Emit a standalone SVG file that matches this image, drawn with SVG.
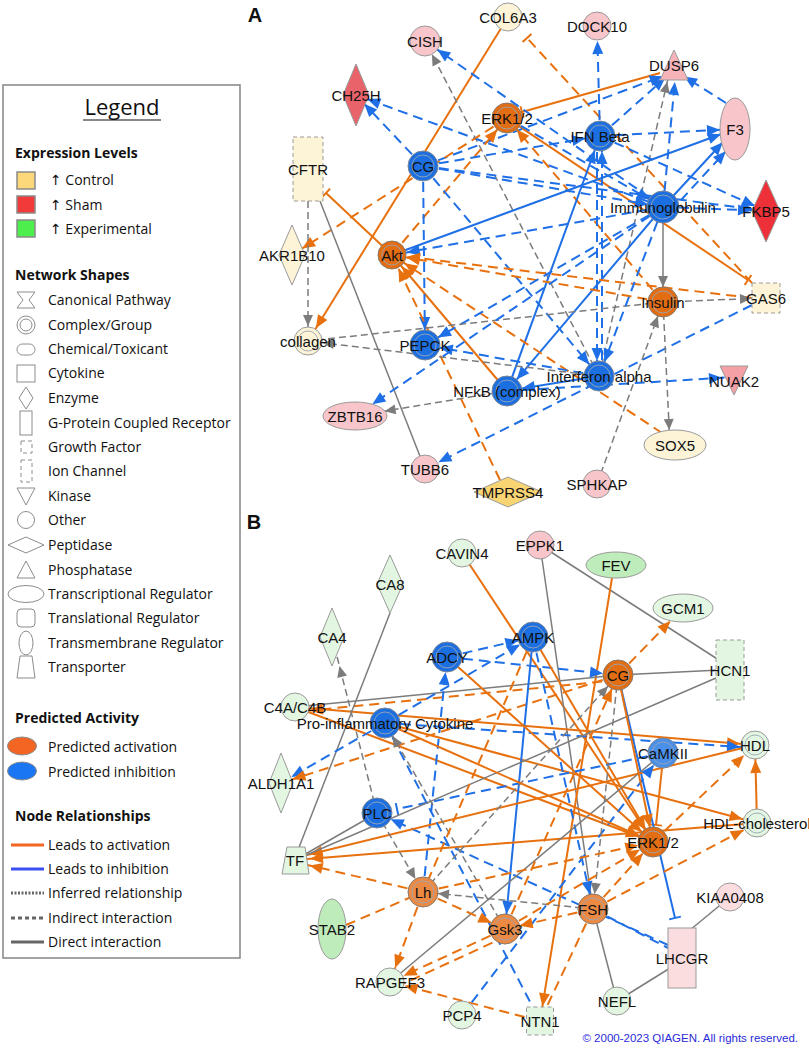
<svg xmlns="http://www.w3.org/2000/svg" width="809" height="1048" viewBox="0 0 809 1048">
<style>
.eo{stroke:#e8710f;stroke-width:2;fill:none}
.eb{stroke:#1f6fe6;stroke-width:2;fill:none}
.eg{stroke:#7c7c7c;stroke-width:1.5;fill:none}
.d{stroke-dasharray:10 6}
.eg.d{stroke-dasharray:7 4}
.nb{fill:#1c6fe0;stroke:#7a8597;stroke-width:1}
.ncm{fill:#4b90e8;stroke:#7a8597;stroke-width:1}
.no{fill:#e36d12;stroke:#8a7a6a;stroke-width:1}
.nlo{fill:#ec8a44;stroke:#8a7a6a;stroke-width:1}
.npk{fill:#f8c6ca;stroke:#9a9a9a;stroke-width:1}
.nlp{fill:#fbdde0;stroke:#9a9a9a;stroke-width:1}
.ncr{fill:#fdf4d8;stroke:#9a9a9a;stroke-width:1}
.nlg{fill:#e3f6e1;stroke:#9a9a9a;stroke-width:1}
.ngr{fill:#bfecbb;stroke:#9a9a9a;stroke-width:1}
.ring{fill:none;stroke:#9aa6b6;stroke-width:0.9}
.dash{stroke-dasharray:4 3}
.lbl{font-family:"Liberation Sans",Arial,sans-serif;font-size:15px;fill:#111;text-anchor:middle;dominant-baseline:central}
.ttl{font-family:"Liberation Sans",Arial,sans-serif;font-size:20px;font-weight:bold;fill:#111;text-anchor:middle}
.li{font-family:"Open Sans","Liberation Sans",sans-serif;font-size:14px;fill:#111}
.lh{font-family:"Open Sans","Liberation Sans",sans-serif;font-size:14px;font-weight:bold;fill:#111}
.ar{font-family:"DejaVu Sans",sans-serif;font-size:14px}
.ls{fill:#fff;stroke:#8c8c8c;stroke-width:1}
</style>
<defs>
<marker id="ao12" markerUnits="userSpaceOnUse" orient="auto" refX="12" refY="0" markerWidth="1" markerHeight="1" overflow="visible"><path d="M0,0 L-13,-5.5 L-13,5.5 z" fill="#e8710f"/></marker>
<marker id="ao15" markerUnits="userSpaceOnUse" orient="auto" refX="15" refY="0" markerWidth="1" markerHeight="1" overflow="visible"><path d="M0,0 L-13,-5.5 L-13,5.5 z" fill="#e8710f"/></marker>
<marker id="ao18" markerUnits="userSpaceOnUse" orient="auto" refX="18" refY="0" markerWidth="1" markerHeight="1" overflow="visible"><path d="M0,0 L-13,-5.5 L-13,5.5 z" fill="#e8710f"/></marker>
<marker id="ab12" markerUnits="userSpaceOnUse" orient="auto" refX="12" refY="0" markerWidth="1" markerHeight="1" overflow="visible"><path d="M0,0 L-13,-5.5 L-13,5.5 z" fill="#1f6fe6"/></marker>
<marker id="ab15" markerUnits="userSpaceOnUse" orient="auto" refX="15" refY="0" markerWidth="1" markerHeight="1" overflow="visible"><path d="M0,0 L-13,-5.5 L-13,5.5 z" fill="#1f6fe6"/></marker>
<marker id="ab18" markerUnits="userSpaceOnUse" orient="auto" refX="18" refY="0" markerWidth="1" markerHeight="1" overflow="visible"><path d="M0,0 L-13,-5.5 L-13,5.5 z" fill="#1f6fe6"/></marker>
<marker id="ab22" markerUnits="userSpaceOnUse" orient="auto" refX="21" refY="0" markerWidth="1" markerHeight="1" overflow="visible"><path d="M0,0 L-13,-5.5 L-13,5.5 z" fill="#1f6fe6"/></marker>
<marker id="ag12" markerUnits="userSpaceOnUse" orient="auto" refX="12" refY="0" markerWidth="1" markerHeight="1" overflow="visible"><path d="M0,0 L-11,-5 L-11,5 z" fill="#7c7c7c"/></marker>
<marker id="ag15" markerUnits="userSpaceOnUse" orient="auto" refX="15" refY="0" markerWidth="1" markerHeight="1" overflow="visible"><path d="M0,0 L-11,-5 L-11,5 z" fill="#7c7c7c"/></marker>
<marker id="ag30" markerUnits="userSpaceOnUse" orient="auto" refX="30" refY="0" markerWidth="1" markerHeight="1" overflow="visible"><path d="M0,0 L-11,-5 L-11,5 z" fill="#7c7c7c"/></marker>
<marker id="to" markerUnits="userSpaceOnUse" orient="auto" refX="0" refY="0" markerWidth="1" markerHeight="1" overflow="visible"><path d="M0,-6 L0,6" stroke="#e8710f" stroke-width="2"/></marker>
<marker id="tb" markerUnits="userSpaceOnUse" orient="auto" refX="0" refY="0" markerWidth="1" markerHeight="1" overflow="visible"><path d="M0,-6 L0,6" stroke="#1f6fe6" stroke-width="2"/></marker>
</defs>
<rect width="809" height="1048" fill="#fff"/>

<g id="legend">
<rect x="3" y="85" width="237" height="873" fill="#fff" stroke="#8c8c8c" stroke-width="1.6"/>
<text x="122" y="115" class="li" text-anchor="middle" style="font-size:22px">Legend</text>
<line x1="83" y1="120" x2="161" y2="120" stroke="#111" stroke-width="1.2"/>
<text x="15" y="158" class="lh">Expression Levels</text>
<rect x="17" y="172" width="18" height="17" fill="#fdd87a" stroke="#8a8a8a" stroke-width="1.5"/>
<text x="50" y="185" class="li"><tspan class="ar">↑</tspan> Control</text>
<rect x="17" y="196" width="18" height="17" fill="#f23a3a" stroke="#8a8a8a" stroke-width="1.5"/>
<text x="50" y="210" class="li"><tspan class="ar">↑</tspan> Sham</text>
<rect x="17" y="220" width="18" height="17" fill="#4cef4c" stroke="#8a8a8a" stroke-width="1.5"/>
<text x="50" y="234" class="li"><tspan class="ar">↑</tspan> Experimental</text>
<text x="15" y="280" class="lh">Network Shapes</text>
<polygon class="ls" points="17,292 35,292 29,300 35,308 17,308 23,300"/>
<text x="48" y="305" class="li">Canonical Pathway</text>
<circle class="ls" cx="26" cy="325" r="9"/><circle class="ls" cx="26" cy="325" r="6"/>
<text x="48" y="330" class="li">Complex/Group</text>
<rect class="ls" x="17" y="344" width="18" height="11" rx="5.5"/>
<text x="48" y="354" class="li">Chemical/Toxicant</text>
<rect class="ls" x="17" y="365" width="18" height="17"/>
<text x="48" y="378" class="li">Cytokine</text>
<polygon class="ls" points="26,387 33,398 26,409 19,398"/>
<text x="48" y="403" class="li">Enzyme</text>
<rect class="ls" x="20" y="411" width="12" height="24"/>
<text x="48" y="428" class="li">G-Protein Coupled Receptor</text>
<rect class="ls dash" x="21" y="441" width="11" height="12"/>
<text x="48" y="452" class="li">Growth Factor</text>
<rect class="ls dash" x="21" y="460" width="11" height="22"/>
<text x="48" y="476" class="li">Ion Channel</text>
<polygon class="ls" points="17,488 35,488 26,505"/>
<text x="48" y="501" class="li">Kinase</text>
<circle class="ls" cx="26" cy="520" r="8.5"/>
<text x="48" y="525" class="li">Other</text>
<polygon class="ls" points="8,545 26,537 44,545 26,553"/>
<text x="48" y="550" class="li">Peptidase</text>
<polygon class="ls" points="26,561 35,578 17,578"/>
<text x="48" y="575" class="li">Phosphatase</text>
<ellipse class="ls" cx="26" cy="594" rx="18" ry="8.5"/>
<text x="48" y="599" class="li">Transcriptional Regulator</text>
<rect class="ls" x="17" y="609" width="18" height="18" rx="4"/>
<text x="48" y="623" class="li">Translational Regulator</text>
<ellipse class="ls" cx="26" cy="643" rx="7" ry="12"/>
<text x="48" y="648" class="li">Transmembrane Regulator</text>
<polygon class="ls" points="20,656 32,656 35,678 17,678"/>
<text x="48" y="672" class="li">Transporter</text>
<text x="15" y="723" class="lh">Predicted Activity</text>
<ellipse cx="22" cy="746" rx="14.5" ry="9" fill="#f26522" stroke="#8a8a8a"/>
<text x="48" y="752" class="li">Predicted activation</text>
<ellipse cx="22" cy="771" rx="14.5" ry="9" fill="#1a76f2" stroke="#8a8a8a"/>
<text x="48" y="777" class="li">Predicted inhibition</text>
<text x="15" y="821" class="lh">Node Relationships</text>
<line x1="11" y1="845" x2="44" y2="845" stroke="#f26522" stroke-width="3"/>
<text x="48" y="850" class="li">Leads to activation</text>
<line x1="11" y1="869" x2="44" y2="869" stroke="#3c4ff0" stroke-width="3"/>
<text x="48" y="874" class="li">Leads to inhibition</text>
<line x1="11" y1="893" x2="44" y2="893" stroke="#666" stroke-width="3" stroke-dasharray="2 1.5"/>
<text x="48" y="898" class="li">Inferred relationship</text>
<line x1="11" y1="918" x2="44" y2="918" stroke="#666" stroke-width="3" stroke-dasharray="4 3"/>
<text x="48" y="923" class="li">Indirect interaction</text>
<line x1="11" y1="942" x2="44" y2="942" stroke="#666" stroke-width="3"/>
<text x="48" y="947" class="li">Direct interaction</text>
</g>

<text x="255" y="22" class="ttl">A</text>
<text x="254" y="529" class="ttl">B</text>

<g id="edges-A">
<line x1="508" y1="17" x2="308" y2="341" class="eo" marker-end="url(#ao15)"/>
<line x1="752" y1="283" x2="527" y2="38" class="eo d" marker-end="url(#to)"/>
<line x1="507" y1="118" x2="748" y2="280" class="eo" marker-end="url(#to)"/>
<line x1="660" y1="73" x2="522" y2="112" class="eo" marker-end="url(#to)"/>
<line x1="600" y1="136" x2="597" y2="26" class="eb d" marker-end="url(#ab15)"/>
<line x1="600" y1="136" x2="674" y2="70" class="eb d" marker-end="url(#ab12)"/>
<line x1="726" y1="103" x2="674" y2="70" class="eb d" marker-end="url(#ab12)"/>
<line x1="663" y1="207" x2="676" y2="70" class="eb d" marker-end="url(#ab12)"/>
<line x1="599" y1="376" x2="670" y2="70" class="eg d" marker-end="url(#ag12)"/>
<line x1="423" y1="166" x2="674" y2="72" class="eb d" marker-end="url(#ab12)"/>
<line x1="663" y1="207" x2="425" y2="41" class="eb d" marker-end="url(#ab15)"/>
<line x1="599" y1="376" x2="425" y2="41" class="eg d" marker-end="url(#ag15)"/>
<line x1="423" y1="166" x2="356" y2="95" class="eb d" marker-end="url(#ab12)"/>
<line x1="663" y1="207" x2="356" y2="95" class="eb d" marker-end="url(#ab12)"/>
<line x1="507" y1="118" x2="292" y2="255" class="eo d" marker-end="url(#ao12)"/>
<line x1="392" y1="255" x2="507" y2="118" class="eo d" marker-end="url(#ao15)"/>
<line x1="663" y1="302" x2="507" y2="118" class="eo d" marker-end="url(#ao15)"/>
<line x1="308" y1="201" x2="308" y2="341" class="eg d" marker-end="url(#ag15)"/>
<line x1="320" y1="201" x2="425" y2="469" class="eg"/>
<line x1="392" y1="255" x2="326" y2="193" class="eo" marker-end="url(#to)"/>
<line x1="507" y1="391" x2="392" y2="255" class="eo" marker-end="url(#ao15)"/>
<line x1="392" y1="255" x2="735" y2="129" class="eb" marker-end="url(#ab15)"/>
<line x1="600" y1="136" x2="735" y2="129" class="eb d" marker-end="url(#ab15)"/>
<line x1="663" y1="207" x2="735" y2="129" class="eb" marker-end="url(#ab18)"/>
<line x1="670" y1="212" x2="738" y2="138" class="eb d" marker-end="url(#ab18)"/>
<line x1="423" y1="166" x2="766" y2="211" class="eb d" marker-end="url(#ab12)"/>
<line x1="600" y1="136" x2="766" y2="211" class="eb d" marker-end="url(#ab12)"/>
<line x1="663" y1="207" x2="766" y2="211" class="eb d" marker-end="url(#ab15)"/>
<line x1="423" y1="166" x2="600" y2="136" class="eb d" marker-end="url(#ab15)"/>
<line x1="423" y1="166" x2="663" y2="207" class="eb d" marker-end="url(#ab15)"/>
<line x1="423" y1="166" x2="425" y2="345" class="eb d" marker-end="url(#ab15)"/>
<line x1="423" y1="166" x2="599" y2="376" class="eb d" marker-end="url(#ab15)"/>
<line x1="597" y1="136" x2="597" y2="376" class="eb d" marker-end="url(#ab15)"/>
<line x1="602" y1="376" x2="602" y2="136" class="eb d" marker-end="url(#ab15)"/>
<line x1="507" y1="391" x2="600" y2="136" class="eb" marker-end="url(#ab15)"/>
<line x1="663" y1="207" x2="507" y2="391" class="eb" marker-end="url(#ab15)"/>
<line x1="663" y1="207" x2="392" y2="255" class="eb d" marker-end="url(#ab15)"/>
<line x1="663" y1="302" x2="392" y2="255" class="eo d" marker-end="url(#ao15)"/>
<line x1="752" y1="298" x2="392" y2="255" class="eo d" marker-end="url(#ao15)"/>
<line x1="662" y1="433" x2="392" y2="255" class="eo d" marker-end="url(#ao15)"/>
<line x1="500" y1="480" x2="392" y2="255" class="eo d" marker-end="url(#ao15)"/>
<line x1="663" y1="207" x2="425" y2="345" class="eb d" marker-end="url(#ab15)"/>
<line x1="599" y1="376" x2="425" y2="345" class="eb d" marker-end="url(#ab15)"/>
<line x1="663" y1="302" x2="308" y2="341" class="eg d"/>
<line x1="599" y1="376" x2="308" y2="341" class="eg d" marker-end="url(#ag15)"/>
<line x1="507" y1="391" x2="355" y2="416" class="eg d" marker-end="url(#ag30)"/>
<line x1="663" y1="207" x2="355" y2="416" class="eb d" marker-end="url(#ab22)"/>
<line x1="752" y1="305" x2="425" y2="469" class="eb d" marker-end="url(#ab15)"/>
<line x1="663" y1="302" x2="670" y2="445" class="eg d" marker-end="url(#ag15)"/>
<line x1="597" y1="484" x2="663" y2="302" class="eg d" marker-end="url(#ag15)"/>
<line x1="663" y1="207" x2="663" y2="302" class="eg" marker-end="url(#ag15)"/>
<line x1="663" y1="207" x2="599" y2="376" class="eb d" marker-end="url(#ab15)"/>
<line x1="599" y1="376" x2="507" y2="391" class="eb" marker-end="url(#ab15)"/>
<line x1="507" y1="391" x2="734" y2="377" class="eb d" marker-end="url(#ab12)"/>
<line x1="663" y1="302" x2="766" y2="298" class="eg d" marker-end="url(#ag15)"/>
<line x1="507" y1="118" x2="663" y2="207" class="eb d" marker-end="url(#ab15)"/>
</g>

<g id="edges-B">
<line x1="462" y1="553" x2="653" y2="842" class="eo" marker-end="url(#ao15)"/>
<line x1="540" y1="545" x2="722" y2="662" class="eg"/>
<line x1="540" y1="545" x2="593" y2="909" class="eg"/>
<line x1="612" y1="578" x2="540" y2="1021" class="eo" marker-end="url(#ao15)"/>
<line x1="618" y1="675" x2="683" y2="608" class="eo d" marker-end="url(#ao18)"/>
<line x1="618" y1="675" x2="720" y2="670" class="eg"/>
<line x1="295" y1="707" x2="618" y2="675" class="eg"/>
<line x1="618" y1="680" x2="295" y2="712" class="eo d" marker-end="url(#ao15)"/>
<line x1="295" y1="707" x2="755" y2="745" class="eo" marker-end="url(#ao15)"/>
<line x1="385" y1="723" x2="755" y2="748" class="eb d" marker-end="url(#ab15)"/>
<line x1="385" y1="723" x2="757" y2="823" class="eo" marker-end="url(#ao15)"/>
<line x1="295" y1="707" x2="653" y2="842" class="eo" marker-end="url(#ao15)"/>
<line x1="390" y1="613" x2="298" y2="850" class="eg"/>
<line x1="377" y1="813" x2="332" y2="637" class="eg d" marker-end="url(#ag30)"/>
<line x1="385" y1="723" x2="281" y2="783" class="eb d" marker-end="url(#ab12)"/>
<line x1="618" y1="675" x2="281" y2="783" class="eo d" marker-end="url(#ao12)"/>
<line x1="385" y1="723" x2="533" y2="637" class="eb d" marker-end="url(#ab15)"/>
<line x1="447" y1="657" x2="533" y2="637" class="eb d" marker-end="url(#ab15)"/>
<line x1="423" y1="892" x2="447" y2="657" class="eb d" marker-end="url(#ab15)"/>
<line x1="447" y1="657" x2="618" y2="675" class="eb d" marker-end="url(#ab15)"/>
<line x1="533" y1="637" x2="593" y2="909" class="eb d" marker-end="url(#ab15)"/>
<line x1="533" y1="637" x2="505" y2="929" class="eb" marker-end="url(#ab15)"/>
<line x1="533" y1="637" x2="653" y2="842" class="eo" marker-end="url(#ao15)"/>
<line x1="447" y1="657" x2="653" y2="842" class="eo" marker-end="url(#ao15)"/>
<line x1="662" y1="768" x2="656" y2="825" class="eo" marker-end="url(#to)"/>
<line x1="663" y1="753" x2="397" y2="809" class="eb d" marker-end="url(#tb)"/>
<line x1="668" y1="945" x2="377" y2="813" class="eb d" marker-end="url(#ab15)"/>
<line x1="593" y1="909" x2="668" y2="948" class="eb d"/>
<line x1="618" y1="675" x2="675" y2="918" class="eb" marker-end="url(#tb)"/>
<line x1="730" y1="897" x2="690" y2="930" class="eg"/>
<line x1="617" y1="1001" x2="675" y2="965" class="eg"/>
<line x1="617" y1="1001" x2="593" y2="909" class="eg"/>
<line x1="757" y1="823" x2="755" y2="745" class="eo" marker-end="url(#ao15)"/>
<line x1="757" y1="823" x2="295" y2="860" class="eo" marker-end="url(#ao15)"/>
<line x1="755" y1="745" x2="295" y2="858" class="eo" marker-end="url(#ao15)"/>
<line x1="423" y1="892" x2="295" y2="862" class="eo d" marker-end="url(#ao15)"/>
<line x1="377" y1="813" x2="295" y2="860" class="eg"/>
<line x1="377" y1="813" x2="423" y2="892" class="eg d" marker-end="url(#ag15)"/>
<line x1="346" y1="925" x2="423" y2="892" class="eo d"/>
<line x1="423" y1="892" x2="390" y2="982" class="eo d" marker-end="url(#ao15)"/>
<line x1="505" y1="929" x2="390" y2="982" class="eo d" marker-end="url(#ao15)"/>
<line x1="507" y1="936" x2="394" y2="988" class="eo d"/>
<line x1="390" y1="982" x2="663" y2="753" class="eg"/>
<line x1="540" y1="1021" x2="390" y2="982" class="eo d" marker-end="url(#ao15)"/>
<line x1="462" y1="1015" x2="663" y2="753" class="eb d" marker-end="url(#ab15)"/>
<line x1="385" y1="723" x2="540" y2="1021" class="eb d"/>
<line x1="423" y1="892" x2="505" y2="929" class="eo d" marker-end="url(#ao15)"/>
<line x1="593" y1="909" x2="423" y2="892" class="eg d" marker-end="url(#ag15)"/>
<line x1="423" y1="892" x2="618" y2="675" class="eg d" marker-end="url(#ag15)"/>
<line x1="618" y1="675" x2="593" y2="909" class="eg d" marker-end="url(#ag15)"/>
<line x1="505" y1="929" x2="385" y2="723" class="eg d" marker-end="url(#ag15)"/>
<line x1="716" y1="678" x2="295" y2="860" class="eg"/>
<line x1="653" y1="842" x2="755" y2="745" class="eo d" marker-end="url(#ao15)"/>
<line x1="593" y1="909" x2="757" y2="823" class="eo d" marker-end="url(#ao15)"/>
<line x1="593" y1="909" x2="653" y2="842" class="eo d" marker-end="url(#ao15)"/>
<line x1="423" y1="892" x2="653" y2="842" class="eo d" marker-end="url(#ao15)"/>
<line x1="505" y1="929" x2="653" y2="842" class="eo d" marker-end="url(#ao15)"/>
<line x1="593" y1="909" x2="540" y2="1021" class="eo d"/>
<line x1="618" y1="675" x2="653" y2="842" class="eo" marker-end="url(#ao15)"/>
<line x1="385" y1="723" x2="653" y2="842" class="eo" marker-end="url(#ao15)"/>
<line x1="505" y1="929" x2="618" y2="675" class="eo d" marker-end="url(#ao15)"/>
<line x1="533" y1="637" x2="423" y2="892" class="eo d"/>
<line x1="593" y1="909" x2="505" y2="929" class="eo d" marker-end="url(#ao15)"/>
</g>

<g id="n-COL6A3" transform="translate(508,17)"><circle r="14" class="ncr"/><text class="lbl">COL6A3</text></g>
<g id="n-CISH" transform="translate(425,41)"><circle r="15" class="npk"/><text class="lbl">CISH</text></g>
<g id="n-DOCK10" transform="translate(597,26)"><circle r="14" class="npk"/><text class="lbl">DOCK10</text></g>
<g id="n-DUSP6" transform="translate(674,50)"><polygon points="0,0 14,30 -14,30" class="npk" style="fill:#f6b4b9"/><text class="lbl" y="15">DUSP6</text></g>
<g id="n-CH25H" transform="translate(356,95)"><polygon points="0,-31 13,0 0,31 -13,0" class="npk" style="fill:#e8646a"/><text class="lbl">CH25H</text></g>
<g id="n-ERK12-A" transform="translate(507,118)"><circle r="15" class="no"/><circle r="11" class="ring"/><text class="lbl">ERK1/2</text></g>
<g id="n-IFNBeta" transform="translate(600,136)"><circle r="15" class="nb"/><circle r="11" class="ring"/><text class="lbl">IFN Beta</text></g>
<g id="n-F3" transform="translate(735,129)"><ellipse rx="15" ry="31" class="npk"/><text class="lbl">F3</text></g>
<g id="n-CFTR" transform="translate(308,169)"><rect x="-15" y="-32" width="30" height="64" class="ncr dash"/><text class="lbl">CFTR</text></g>
<g id="n-CG-A" transform="translate(423,166)"><circle r="15" class="nb"/><circle r="11" class="ring"/><text class="lbl">CG</text></g>
<g id="n-Immunoglobulin" transform="translate(663,207)"><circle r="16" class="nb"/><circle r="12" class="ring"/><text class="lbl">Immunoglobulin</text></g>
<g id="n-FKBP5" transform="translate(766,211)"><polygon points="0,-31 14,0 0,31 -14,0" class="npk" style="fill:#ee3138"/><text class="lbl">FKBP5</text></g>
<g id="n-AKR1B10" transform="translate(292,255)"><polygon points="0,-30 13,0 0,30 -13,0" class="ncr"/><text class="lbl">AKR1B10</text></g>
<g id="n-Akt" transform="translate(392,255)"><circle r="14" class="no"/><circle r="10" class="ring"/><text class="lbl">Akt</text></g>
<g id="n-collagen" transform="translate(308,341)"><circle r="14" class="ncr"/><circle r="10" class="ring"/><text class="lbl">collagen</text></g>
<g id="n-PEPCK" transform="translate(425,345)"><circle r="15" class="nb"/><circle r="11" class="ring"/><text class="lbl">PEPCK</text></g>
<g id="n-GAS6" transform="translate(766,298)"><rect x="-14" y="-15" width="28" height="30" class="ncr dash"/><text class="lbl">GAS6</text></g>
<g id="n-Insulin" transform="translate(663,302)"><circle r="15" class="no"/><circle r="11" class="ring"/><text class="lbl">Insulin</text></g>
<g id="n-IFNalpha" transform="translate(599,376)"><circle r="15" class="nb"/><circle r="11" class="ring"/><text class="lbl">Interferon alpha</text></g>
<g id="n-NFkB" transform="translate(507,391)"><circle r="15" class="nb"/><circle r="11" class="ring"/><text class="lbl">NFkB (complex)</text></g>
<g id="n-NUAK2" transform="translate(734,366)"><polygon points="-14,0 14,0 0,29" class="npk" style="fill:#f5a0a5"/><text class="lbl" y="15">NUAK2</text></g>
<g id="n-ZBTB16" transform="translate(355,416)"><ellipse rx="32" ry="14" class="npk"/><text class="lbl">ZBTB16</text></g>
<g id="n-SOX5" transform="translate(675,445)"><ellipse rx="31" ry="15" class="ncr"/><text class="lbl">SOX5</text></g>
<g id="n-TUBB6" transform="translate(425,469)"><circle r="14" class="npk"/><text class="lbl">TUBB6</text></g>
<g id="n-TMPRSS4" transform="translate(508,492)"><polygon points="-34,0 0,-15 34,0 0,15" class="ncr" style="fill:#f8d472"/><text class="lbl">TMPRSS4</text></g>
<g id="n-SPHKAP" transform="translate(597,484)"><circle r="14" class="npk"/><text class="lbl">SPHKAP</text></g>

<g id="n-CAVIN4" transform="translate(462,553)"><circle r="14" class="nlg"/><text class="lbl">CAVIN4</text></g>
<g id="n-EPPK1" transform="translate(540,545)"><circle r="14" class="npk"/><text class="lbl">EPPK1</text></g>
<g id="n-FEV" transform="translate(616,565)"><ellipse rx="30" ry="13" class="ngr"/><text class="lbl">FEV</text></g>
<g id="n-CA8" transform="translate(390,584)"><polygon points="0,-29 13,0 0,29 -13,0" class="nlg"/><text class="lbl">CA8</text></g>
<g id="n-GCM1" transform="translate(683,608)"><ellipse rx="30" ry="14" class="nlg"/><text class="lbl">GCM1</text></g>
<g id="n-CA4" transform="translate(332,637)"><polygon points="0,-29 12,0 0,29 -12,0" class="nlg"/><text class="lbl">CA4</text></g>
<g id="n-AMPK" transform="translate(533,637)"><circle r="15" class="nb"/><circle r="11" class="ring"/><text class="lbl">AMPK</text></g>
<g id="n-ADCY" transform="translate(447,657)"><circle r="15" class="nb"/><circle r="11" class="ring"/><text class="lbl">ADCY</text></g>
<g id="n-CG-B" transform="translate(618,675)"><circle r="15" class="no"/><circle r="11" class="ring"/><text class="lbl">CG</text></g>
<g id="n-HCN1" transform="translate(730,670)"><rect x="-14" y="-30" width="28" height="60" class="nlg dash"/><text class="lbl">HCN1</text></g>
<g id="n-C4A-C4B" transform="translate(295,707)"><circle r="14" class="nlg"/><text class="lbl">C4A/C4B</text></g>
<g id="n-ProInflammatory" transform="translate(385,723)"><circle r="15" class="nb"/><circle r="11" class="ring"/><text class="lbl">Pro-inflammatory Cytokine</text></g>
<g id="n-CaMKII" transform="translate(663,753)"><circle r="15" class="ncm"/><circle r="11" class="ring"/><text class="lbl">CaMKII</text></g>
<g id="n-HDL" transform="translate(755,745)"><circle r="14" class="nlg"/><circle r="10" class="ring"/><text class="lbl">HDL</text></g>
<g id="n-ALDH1A1" transform="translate(281,783)"><polygon points="0,-30 12,0 0,30 -12,0" class="nlg"/><text class="lbl">ALDH1A1</text></g>
<g id="n-PLC" transform="translate(377,813)"><circle r="15" class="nb"/><circle r="11" class="ring"/><text class="lbl">PLC</text></g>
<g id="n-HDL-cholesterol" transform="translate(757,823)"><circle r="14" class="nlg"/><circle r="10" class="ring"/><text class="lbl">HDL-cholesterol</text></g>
<g id="n-ERK12-B" transform="translate(653,842)"><circle r="15" class="no"/><circle r="11" class="ring"/><text class="lbl">ERK1/2</text></g>
<g id="n-TF" transform="translate(295,860)"><polygon points="-8,-13 10,-13 14,14 -13,14" class="nlg"/><text class="lbl">TF</text></g>
<g id="n-Lh" transform="translate(423,892)"><circle r="15" class="nlo"/><circle r="11" class="ring"/><text class="lbl">Lh</text></g>
<g id="n-KIAA0408" transform="translate(730,897)"><circle r="14" class="nlp"/><text class="lbl">KIAA0408</text></g>
<g id="n-FSH" transform="translate(593,909)"><circle r="15" class="nlo"/><circle r="11" class="ring"/><text class="lbl">FSH</text></g>
<g id="n-Gsk3" transform="translate(505,929)"><circle r="15" class="nlo"/><circle r="11" class="ring"/><text class="lbl">Gsk3</text></g>
<g id="n-STAB2" transform="translate(332,929)"><ellipse rx="14" ry="30" class="ngr"/><text class="lbl">STAB2</text></g>
<g id="n-LHCGR" transform="translate(682,958)"><rect x="-14" y="-30" width="28" height="60" class="nlp"/><text class="lbl">LHCGR</text></g>
<g id="n-RAPGEF3" transform="translate(390,982)"><circle r="14" class="nlg"/><text class="lbl">RAPGEF3</text></g>
<g id="n-NEFL" transform="translate(617,1001)"><circle r="14" class="nlg"/><text class="lbl">NEFL</text></g>
<g id="n-PCP4" transform="translate(462,1015)"><circle r="14" class="nlg"/><text class="lbl">PCP4</text></g>
<g id="n-NTN1" transform="translate(540,1021)"><rect x="-13.5" y="-14" width="27" height="28" class="nlg dash"/><text class="lbl">NTN1</text></g>

<text x="798" y="1042" font-family="Liberation Sans, Arial, sans-serif" font-size="11.5" fill="#2a2ad8" text-anchor="end">© 2000-2023 QIAGEN. All rights reserved.</text>
</svg>
